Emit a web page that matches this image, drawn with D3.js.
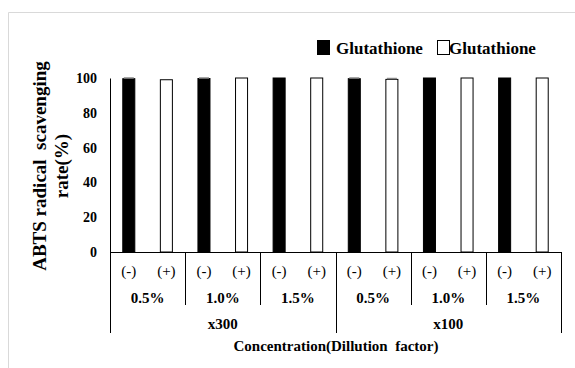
<!DOCTYPE html>
<html>
<head>
<meta charset="utf-8">
<script src="https://cdn.jsdelivr.net/npm/d3@7"></script>
<style>
  body { margin: 0; background: #fff; }
  text { font-family: "Liberation Serif", "Tinos", "Times New Roman", "DejaVu Serif", serif; fill: #000; }
</style>
</head>
<body>
<div id="chart"></div>
<script>
var canvasWidth = 575;
var canvasHeight = 368;

/* data */
var dilutions = ["x300", "x100"];
var concentrations = ["0.5%", "1.0%", "1.5%"];
var treatments = ["(-)", "(+)"];
var values = [99.6, 99.0, 99.7, 100, 100, 100, 99.6, 99.2, 100, 100, 100, 100];
var errors = [0.4, 0, 0.3, 0, 0, 0, 0.4, 0.5, 0, 0, 0, 0];
var yTicks = [0, 20, 40, 60, 80, 100];
var legendLabels = ["Glutathione", "Glutathione"];

var svg = d3.select("#chart").append("svg")
    .attr("width", canvasWidth)
    .attr("height", canvasHeight);

/* light frame */
svg.append("path")
    .attr("d", "M8.5," + canvasHeight + "V12.5H" + canvasWidth)
    .attr("fill", "none")
    .attr("stroke", "#d9d9d9");

var plotLeft = 110, plotRight = 561, plotTop = 78, plotBottom = 252;

/* one slot per bar */
var slots = [];
dilutions.forEach(function (d) {
    concentrations.forEach(function (c) {
        treatments.forEach(function (t, k) {
            slots.push({dil: d, conc: c, treat: t, k: k, idx: slots.length});
        });
    });
});
slots.forEach(function (s, i) { s.value = values[i]; s.err = errors[i]; });

var xScale = d3.scaleBand().domain(d3.range(slots.length)).range([plotLeft, plotRight]).padding(0);
var yScale = d3.scaleLinear().domain([0, 100]).range([plotBottom, plotTop]);
var barW = xScale.bandwidth() * 0.32;

/* Y-axis */
var yAxis = svg.append("g")
    .attr("transform", "translate(" + plotLeft + ",0)")
    .attr("font-family", null)
    .call(d3.axisLeft(yScale).tickValues(yTicks).tickSize(0).tickPadding(13));
yAxis.attr("font-family", null);
yAxis.select(".domain").attr("stroke", "#000");
yAxis.selectAll("text")
    .style("font-weight", "bold")
    .style("font-size", "14px");

/* bars */
svg.selectAll(".bar")
    .data(slots)
    .join("rect")
    .attr("class", "bar")
    .attr("x", function (d) { return xScale(d.idx) + (xScale.bandwidth() - barW) / 2; })
    .attr("y", function (d) { return yScale(d.value); })
    .attr("width", barW)
    .attr("height", function (d) { return yScale(0) - yScale(d.value); })
    .attr("fill", function (d) { return d.k === 0 ? "#000" : "#fff"; })
    .attr("stroke", "#000")
    .attr("stroke-width", 1);

/* tiny error caps */
svg.selectAll(".err")
    .data(slots.filter(function (d) { return d.err > 0; }))
    .join("line")
    .attr("class", "err")
    .attr("x1", function (d) { return xScale(d.idx) + (xScale.bandwidth() - barW) / 2 + 1; })
    .attr("x2", function (d) { return xScale(d.idx) + (xScale.bandwidth() + barW) / 2 - 1; })
    .attr("y1", function (d) { return yScale(d.value + d.err); })
    .attr("y2", function (d) { return yScale(d.value + d.err); })
    .attr("stroke", "#888")
    .attr("stroke-width", 1.5);

/* category axis */
var axisG = svg.append("g");
axisG.append("line")
    .attr("x1", plotLeft).attr("x2", plotRight)
    .attr("y1", plotBottom + 0.5).attr("y2", plotBottom + 0.5)
    .attr("stroke", "#000");

var groupW = xScale.bandwidth() * treatments.length;
var nGroups = dilutions.length * concentrations.length;
d3.range(nGroups + 1).forEach(function (g) {
    var x = Math.round(plotLeft + g * groupW) + 0.5;
    var outer = g % concentrations.length === 0;
    axisG.append("line")
        .attr("x1", x).attr("x2", x)
        .attr("y1", plotBottom).attr("y2", outer ? 333 : 305)
        .attr("stroke", "#000");
});

/* (-) (+) labels */
svg.selectAll(".treat")
    .data(slots)
    .join("text")
    .attr("class", "treat")
    .attr("x", function (d) { return xScale(d.idx) + xScale.bandwidth() / 2; })
    .attr("y", 276)
    .attr("text-anchor", "middle")
    .style("font-size", "15px")
    .text(function (d) { return d.treat; });

/* concentration labels */
var concLabels = [];
dilutions.forEach(function () { concentrations.forEach(function (c) { concLabels.push(c); }); });
svg.selectAll(".conc")
    .data(concLabels)
    .join("text")
    .attr("class", "conc")
    .attr("x", function (d, i) { return plotLeft + (i + 0.5) * groupW; })
    .attr("y", 303)
    .attr("text-anchor", "middle")
    .style("font-size", "15px")
    .style("font-weight", "bold")
    .text(function (d) { return d; });

/* dilution labels */
svg.selectAll(".dil")
    .data(dilutions)
    .join("text")
    .attr("class", "dil")
    .attr("x", function (d, i) { return plotLeft + (i + 0.5) * groupW * concentrations.length; })
    .attr("y", 329)
    .attr("text-anchor", "middle")
    .style("font-size", "15px")
    .style("font-weight", "bold")
    .text(function (d) { return d; });

/* X title */
svg.append("text")
    .attr("x", 336)
    .attr("y", 351)
    .attr("text-anchor", "middle")
    .style("font-size", "15px")
    .style("font-weight", "bold")
    .style("white-space", "pre")
    .text("Concentration(Dillution  factor)");

/* Y title */
var yTitle = svg.append("text")
    .attr("transform", "translate(0,166) rotate(-90)")
    .attr("text-anchor", "middle")
    .style("font-size", "19px")
    .style("font-weight", "bold")
    .style("white-space", "pre");
yTitle.append("tspan").attr("x", 0).attr("y", 46).text("ABTS radical  scavenging");
yTitle.append("tspan").attr("x", 0).attr("y", 68).text("rate(%)");

/* legend */
var legend = svg.append("g").attr("class", "legend");
var legendX = [317, 437];
legendLabels.forEach(function (lab, i) {
    legend.append("rect")
        .attr("x", legendX[i] + 0.5).attr("y", 40.5)
        .attr("width", 12).attr("height", 14)
        .attr("fill", i === 0 ? "#000" : "#fff")
        .attr("stroke", "#000");
    legend.append("text")
        .attr("x", legendX[i] + (i === 0 ? 19 : 12))
        .attr("y", 54)
        .style("font-size", "17px")
        .style("font-weight", "bold")
        .text(lab);
});
</script>
</body>
</html>
